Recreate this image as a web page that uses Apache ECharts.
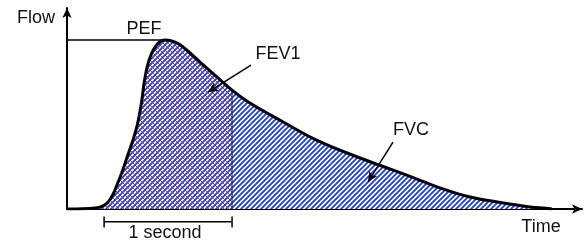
<!DOCTYPE html>
<html>
<head>
<meta charset="utf-8">
<script src="https://cdn.jsdelivr.net/npm/echarts@6/dist/echarts.min.js"></script>
<style>
  html, body { margin: 0; padding: 0; background: #fff; }
  #chart { width: 585px; height: 242px; }
</style>
</head>
<body>
<div id="chart"></div>
<script>
// flow-volume curve (time in seconds, flow in arbitrary units, PEF = 10)
const curveTime = [-0.29, -0.07, 0.03, 0.11, 0.19, 0.25, 0.29, 0.32, 0.36, 0.42, 0.48, 0.555, 0.617, 0.75, 0.883, 1.0, 1.14, 1.40, 1.66, 2.0, 2.26, 2.47, 2.63, 2.86, 3.12, 3.33, 3.45, 3.5];
const curveFlow = [0, 0.06, 0.4, 1.6, 3.3, 4.7, 6.2, 7.8, 9.0, 9.8, 10, 9.88, 9.59, 8.7, 7.81, 7.04, 6.27, 5.15, 4.08, 3.02, 2.3, 1.7, 1.24, 0.71, 0.36, 0.12, 0.04, 0];
const fev1Time = 1.0;
const pefFlow = 10;
const pefTime = 0.48;

const curve = curveTime.map((t, i) => [t, curveFlow[i]]);
const fev1Curve = curve.filter(p => p[0] <= fev1Time);
const fev1Flow = curveFlow[curveTime.indexOf(fev1Time)];

// hatch tiles
function hatch(size, lines) {
  const c = document.createElement('canvas');
  c.width = c.height = size;
  const ctx = c.getContext('2d');
  ctx.fillStyle = '#fff';
  ctx.fillRect(0, 0, size, size);
  lines.forEach(l => {
    ctx.strokeStyle = l.color;
    ctx.lineWidth = l.width;
    ctx.beginPath();
    if (l.dir === '/') {
      ctx.moveTo(-1, size + 1); ctx.lineTo(size + 1, -1);
      ctx.moveTo(-2, 2); ctx.lineTo(2, -2);
      ctx.moveTo(size - 2, size + 2); ctx.lineTo(size + 2, size - 2);
    } else {
      ctx.moveTo(-1, -1); ctx.lineTo(size + 1, size + 1);
      ctx.moveTo(size - 2, -2); ctx.lineTo(size + 2, 2);
      ctx.moveTo(-2, size - 2); ctx.lineTo(2, size + 2);
    }
    ctx.stroke();
  });
  return c;
}
const stripe = hatch(5, [{ dir: '/', color: '#1e3fd6', width: 1.8 }]);
const cross = hatch(5, [
  { dir: '\\', color: '#c83a5a', width: 1.0 },
  { dir: '/', color: '#2a40cc', width: 1.7 }
]);

const myChart = echarts.init(document.getElementById('chart'));
const font = '"Liberation Sans", Arial, Helvetica, sans-serif';

function label(text, x, y) {
  return {
    type: 'text', x: x, y: y, z: 100,
    style: { text: text, fill: '#111', font: '18px ' + font, textAlign: 'center', textVerticalAlign: 'middle' }
  };
}

const option = {
  animation: false,
  grid: { left: 67, right: 3, top: 8, bottom: 33 },
  xAxis: {
    type: 'value', min: -0.29, max: 3.735,
    axisLine: { show: true, onZero: false, symbol: ['none', 'arrow'], symbolSize: [7, 10], lineStyle: { color: '#000', width: 2 } },
    axisTick: { show: false }, axisLabel: { show: false }, splitLine: { show: false }
  },
  yAxis: {
    type: 'value', min: 0, max: 11.9,
    axisLine: { show: true, onZero: false, symbol: ['none', 'arrow'], symbolSize: [7, 10], lineStyle: { color: '#000', width: 2 } },
    axisTick: { show: false }, axisLabel: { show: false }, splitLine: { show: false }
  },
  series: [
    {
      // FVC area
      type: 'line', data: curve, smooth: 0.4, symbol: 'none',
      lineStyle: { opacity: 0 }, areaStyle: { color: { image: stripe, repeat: 'repeat' }, opacity: 1 }, z: 2
    },
    {
      // FEV1 area
      type: 'line', data: fev1Curve, smooth: 0.4, symbol: 'none',
      lineStyle: { opacity: 0 }, areaStyle: { color: { image: cross, repeat: 'repeat' }, opacity: 1 }, z: 3
    },
    {
      // 1 s mark
      type: 'line', data: [[fev1Time, 0], [fev1Time, fev1Flow]], symbol: 'none',
      lineStyle: { color: '#222', width: 1 }, z: 4
    },
    {
      // PEF line
      type: 'line', data: [[-0.29, pefFlow], [pefTime, pefFlow]], symbol: 'none',
      lineStyle: { color: '#000', width: 1.5 }, z: 4
    },
    {
      // curve outline + pointers
      type: 'line', data: curve, smooth: 0.4, symbol: 'none',
      lineStyle: { color: '#000', width: 3 }, z: 5,
      markLine: {
        silent: true, symbol: ['none', 'arrow'], symbolSize: [7, 10],
        lineStyle: { color: '#000', width: 1.5, type: 'solid' }, label: { show: false },
        data: [
          [{ coord: [1.148, 8.52] }, { coord: [0.8125, 6.92] }],
          [{ coord: [2.258, 3.96] }, { coord: [2.0625, 1.6] }]
        ]
      }
    },
    {
      // 1 second bracket below the axis
      type: 'line', clip: false, symbol: 'none',
      data: [[0, -0.45], [0, -1.1], [0, -0.75], [fev1Time, -0.75], [fev1Time, -0.45], [fev1Time, -1.1]],
      lineStyle: { color: '#000', width: 1.5 }, z: 4
    }
  ],
  graphic: [
    label('Flow', 36, 18),
    label('PEF', 144, 29),
    label('FEV1', 278, 54),
    label('FVC', 411, 130),
    label('Time', 541, 227),
    label('1 second', 165, 233)
  ]
};

myChart.setOption(option);
window.addEventListener('resize', () => {
  myChart.resize();
});
</script>
</body>
</html>
